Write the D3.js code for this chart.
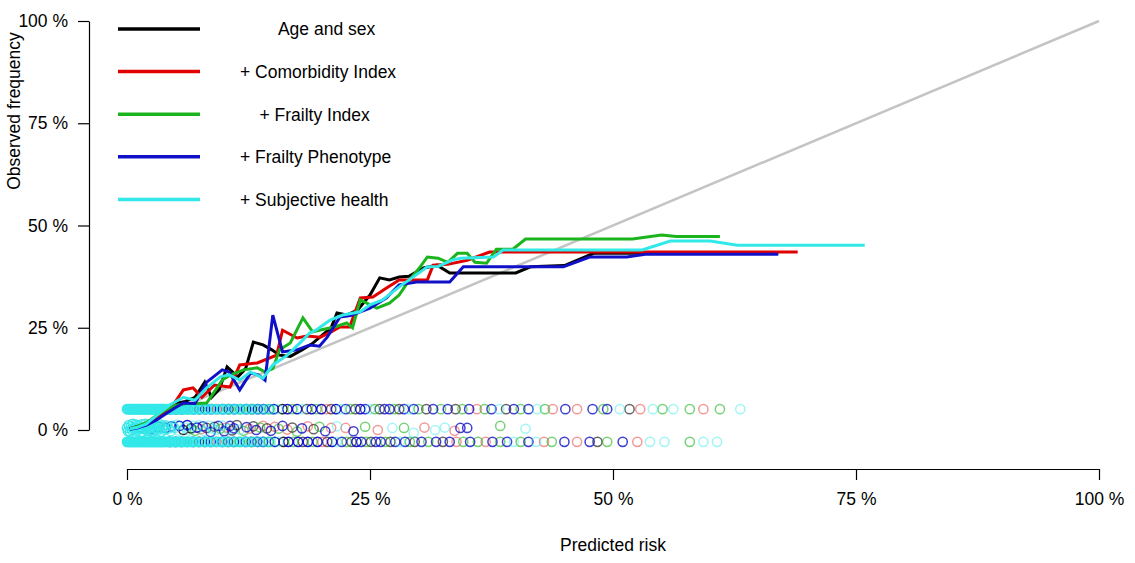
<!DOCTYPE html>
<html>
<head>
<meta charset="utf-8">
<script src="https://cdn.jsdelivr.net/npm/d3@7"></script>
<style>
  html, body { margin: 0; padding: 0; background: #fff; }
  svg { display: block; font-family: "Liberation Sans", Arial, sans-serif; }
</style>
</head>
<body>
<svg id="chart" width="1135" height="563"></svg>
<script>
// ─── Data (percent) ─────────────────────────────────────────────────────────
const models = ["Age and sex", "+ Comorbidity Index", "+ Frailty Index",
                "+ Frailty Phenotype", "+ Subjective health"];
// leading spaces as in the original legend
const legendPad = [8, 0, 4, 0, 0];
const modelColors = ["#000000", "#e00000", "#1cb41c", "#1010c8", "#33e8e8"];
const circleAlpha = [0.6, 0.4, 0.6, 0.8, 0.45];

const xTicks = [0, 25, 50, 75, 100];
const yTicks = [0, 25, 50, 75, 100];

// calibration curves: [predicted, observed]
const ageSex = [[0.3,0.3],[1,0.8],[2,1.5],[3,3],[4,5],[5,6.5],[6,7],[7,8],[8,11.7],[8.7,8],
  [9.5,10],[10.3,15.4],[11.4,13],[12.2,15],[13,21.5],[14,20.8],[14.9,19.6],[15.7,18.3],
  [16.8,18],[18,19.6],[19,21],[20,23],[21,25],[21.6,28.6],[22.6,28.1],[23.7,29.3],[25,33],
  [26,37.2],[27,36.7],[28,37.4],[29,37.6],[30.5,39.6],[31.9,40.3],[33.2,38.4],[36,38.4],
  [40,38.4],[41.5,39.9],[45,40.2],[48,43.2],[67,43.2]];
const comorbidity = [[0.3,0.3],[1,0.7],[2,1.5],[3,3],[4,4.5],[5,7],[5.8,9.8],[6.8,10.3],
  [7.7,8],[9,11],[10.6,10.5],[11.6,15.9],[13.4,16.4],[15.4,18.3],[16,24.4],[17.5,22.5],
  [18.5,23],[19.9,22.7],[21,24],[21.9,25.2],[22.9,25.2],[24,32.3],[25.3,32.5],[26.7,34.7],
  [28,36.7],[30.9,36.7],[31.5,40.3],[33,40.5],[35,41.5],[37.3,43.5],[69,43.5]];
const frailtyIndex = [[0.3,0.3],[1,0.8],[2,1.8],[3,3.5],[4,5],[5,6],[6,6.5],[7,6.5],
  [8.2,6.6],[9.8,12.2],[10.6,13.4],[12,14.7],[13.4,15.2],[14.2,14.2],[15,15],[15.7,19.6],
  [16.8,21.3],[18.1,27.4],[19.1,24],[20,24.5],[21.4,25.2],[22.6,26.2],[23.2,25],[24,31.8],
  [25.7,29.8],[27,31],[28,33],[29,36.5],[30.2,40],[30.9,42.3],[32,42],[33,41],[34,43.2],
  [35,43.2],[35.8,41],[37,40.8],[38,44.2],[39.7,44.2],[41,46.7],[52,46.7],[55,47.7],
  [56.5,47.3],[61,47.3]];
const frailtyPheno = [[0.3,0.2],[1,0.5],[2,1.2],[3,2.4],[4,4],[5,5.5],[5.8,6.6],[7,6.5],
  [8.2,11.7],[9.8,14.7],[10.5,14.2],[11.6,9.8],[12.7,13.9],[13.5,13.5],[14.2,12.2],
  [15,28.1],[16,19.1],[17.5,19.6],[18.8,20.8],[19.8,20.5],[20.6,22.7],[21.9,27.6],[23,28],
  [25,29.8],[26.7,32.3],[28,35.5],[29.8,36.2],[33.2,36.2],[34.6,39.9],[44.9,39.9],
  [47.6,42.3],[51.4,42.3],[53.5,43],[67,43]];
const subjHealth = [[0.3,0.3],[1,0.6],[2,1.5],[3,3.5],[4.4,6.1],[5.8,8],[7,7.3],[8.2,10.3],
  [9.6,13],[10.5,13.5],[11.6,12.2],[12.7,14.2],[14,12.7],[15,15.9],[16.5,18.3],[17.8,21.3],
  [18.8,23.7],[19.5,24.5],[20.9,26.9],[22.2,28.1],[24,28.9],[25,30.6],[26.3,31.8],[28,35],
  [29.5,37.5],[30.9,39.9],[32,40],[33.5,41.6],[34.3,42],[37.7,42.3],[38.7,44],[53,44],
  [55.9,46.2],[60,46.2],[62.8,45.2],[75.9,45.2]];
const curves = [ageSex, comorbidity, frailtyIndex, frailtyPheno, subjHealth];

// rug of predicted risks: [predicted, model, patients at that value (default 1)]
const eventRow = 5.1;     // observed position of the upper strip
const nonEventRow = -2.9; // observed position of the lower strip
const eventRisk = [
  [0,4,10],[0.1,4,10],[0.2,4,10],[0.3,4,10],[0.4,4,10],[0.5,4,10],[0.6,4,10],[0.7,4,10],
  [0.8,4,10],[0.9,4,10],[1,4,10],[1.1,4,10],[1.2,4,10],[1.3,4,10],[1.4,4,10],[1.5,4,10],
  [1.6,4,10],[1.7,4,10],[1.8,4,10],[1.9,4,10],[2,4,10],[2.1,4,10],[2.2,4,10],[2.3,4,10],
  [2.4,4,10],[2.5,4,10],[2.6,4,10],[2.7,4,10],[2.8,4,10],[2.9,4,10],[3,4,10],[3.1,4,8],
  [3.2,4,8],[3.3,4,8],[3.4,4,8],[3.5,4,8],[3.6,4,8],[3.7,4,8],[3.8,4,8],[3.9,4,6],[4,4,6],
  [4.15,4,5],[4.3,4,4],[4.45,4,4],[4.6,4,4],[4.75,4,4],[4.9,4,4],[5.05,4,4],[5.2,4,4],
  [5.35,4,4],[5.5,4,4],[5.65,4,4],[5.8,4,4],[5.95,4,3],[6.1,4,4],[6.25,4,3],[6.4,4,4],
  [6.55,4,3],[6.7,4,4],[6.85,4,3],[7,4,4],[7.3,4,3],[7.6,4,3],[7.9,4,3],[8.2,4,3],[8.5,4,3],
  [8.8,4,3],[9.1,4,3],[9.4,4,3],[9.7,4,3],[10,4,3],[10.3,4,2],[10.6,4,2],[10.9,4,2],
  [11.2,4,2],[11.5,4,2],[11.8,4,2],[12.1,4,2],[12.4,4,2],[12.7,4,2],[13,4,2],[13.3,4],
  [13.6,4],[13.9,4],[14.2,4],[14.5,4],[14.8,4],
  [4.45,3,3],[5.05,0,3],[5.65,3,3],[6.25,2,2],[6.85,3,3],[7.45,0,2],[8.05,3,3],[8.65,3,2],
  [9.25,1,2],[9.85,3,2],[10.45,0,2],[11.05,3,2],[11.65,2,2],[12.25,3,2],[12.85,0,2],
  [13.45,3,2],[14.05,3,2],[14.65,2,2],
  [15.1,3,2],[15.5,4],[16,0,2],[16.5,3,2],[17,2],[17.5,3,2],[18,4],[18.5,0],[19,3,2],
  [19.5,2],[20,3,2],[20.5,1],[21,0],[21.5,3,2],[22,4],[22.5,3],[23,2],[23.5,0],[24,3,2],
  [24.5,3],[25,4],[25.5,2],[26,0],[26.5,3],[27,3],[27.5,2],[28,0],[28.5,3],[29,4],[29.5,3],
  [30,2],
  [30.8,0],[31.5,3],[32.3,2],[33,3],[33.8,0],[34.5,2],[35.2,3],[36,1],[36.8,2],[37.5,3],
  [38.3,4],[39,0],[39.8,3],[40.5,2],[41.3,3],[42.2,4],[43,2],[43.8,1],
  [45.1,3],[46.3,1],[47.9,3],[49,2],[49.4,3],[50.7,4],[51.7,0],[52.8,1],[54.1,4],[55.1,2],
  [56.2,4],[57.9,2],[59.3,1],[61,2],[63.1,4]];
const nonEventRisk = [
  [0,4,10],[0.1,4,10],[0.2,4,10],[0.3,4,10],[0.4,4,10],[0.5,4,10],[0.6,4,10],[0.7,4,10],
  [0.8,4,10],[0.9,4,10],[1,4,10],[1.1,4,10],[1.2,4,10],[1.3,4,10],[1.4,4,10],[1.5,4,10],
  [1.6,4,10],[1.7,4,10],[1.8,4,10],[1.9,4,10],[2,4,10],[2.1,4,10],[2.2,4,10],[2.3,4,10],
  [2.4,4,10],[2.5,4,10],[2.6,4,10],[2.7,4,10],[2.8,4,10],[2.9,4,10],[3,4,10],[3.1,4,8],
  [3.2,4,8],[3.3,4,8],[3.4,4,8],[3.5,4,8],[3.6,4,8],[3.7,4,8],[3.8,4,8],[3.9,4,6],[4,4,6],
  [4.15,4,5],[4.3,4,4],[4.45,4,4],[4.6,4,4],[4.75,4,4],[4.9,4,4],[5.05,4,4],[5.2,4,4],
  [5.35,4,4],[5.5,4,4],[5.65,4,4],[5.8,4,4],[5.95,4,3],[6.1,4,4],[6.25,4,3],[6.4,4,4],
  [6.55,4,3],[6.7,4,4],[6.85,4,3],[7,4,4],[7.3,4,3],[7.6,4,3],[7.9,4,3],[8.2,4,3],[8.5,4,3],
  [8.8,4,3],[9.1,4,3],[9.4,4,3],[9.7,4,3],[10,4,3],[10.3,4,2],[10.6,4,2],[10.9,4,2],
  [11.2,4,2],[11.5,4,2],[11.8,4,2],[12.1,4,2],[12.4,4,2],[12.7,4,2],[13,4,2],[13.3,4],
  [13.6,4],[13.9,4],[14.2,4],[14.5,4],[14.8,4],
  [4.4,3,3],[5,0,3],[5.6,3,3],[6.2,2,2],[6.8,3,3],[7.4,0,2],[8,3,3],[8.6,3,2],[9.2,1,2],
  [9.8,3,2],[10.4,0,2],[11,3,2],[11.6,2,2],[12.2,3,2],[12.8,0,2],[13.4,3,2],[14,3,2],
  [14.6,2,2],
  [15.2,3,2],[15.6,4],[16.1,0,2],[16.6,3,2],[17.1,2],[17.6,3,2],[18.1,0],[18.6,3,2],
  [19.1,2],[19.6,3,2],[20.1,1],[20.6,0],[21.1,3,2],[21.6,4],[22.1,3],[22.6,2],[23.1,0],
  [23.6,3,2],[24.1,3],[24.6,2],[25.1,0],[25.6,3],[26.1,3],[26.6,2],[27.1,0],[27.6,3],
  [28.1,4],[28.6,3],[29.1,2],[29.6,0],
  [30.3,3],[31,2],[31.8,3],[32.5,0],[33.2,3],[33.9,1],[34.6,2],[35.3,3],[36.1,2],[36.9,1],
  [37.6,3],[38.4,2],[39.1,3],[39.8,4],[40.5,2],[41.3,3],[42.1,4],[42.9,1],[43.7,2],
  [45,3],[46.3,1],[47.6,3],[48.4,0],[49.4,2],[51,3],[52.5,1],[53.8,4],[55.3,4],[57.9,2],
  [59.3,4],[60.7,4]];
// jittered middle strip: [predicted, observed, model, patients (default 1)]
const middleRisk = [
  [0,0.5,4,6],[0.1,-0.3,4,6],[0.2,1.2,4,6],[0.3,-0.4,4,6],[0.4,0.9,4,6],[0.5,0,4,6],
  [0.6,1.5,4,6],[0.7,0.3,4,6],[0.8,0.6,4,6],[0.9,1.3,4,6],[1,-0.2,4,6],[1.1,1.1,4,6],
  [1.2,0.5,4,6],[1.3,0.3,4,6],[1.4,-0.6,4,5],[1.5,1.4,4,5],[1.6,-0.5,4,5],[1.7,0.2,4,5],
  [1.8,0.8,4,5],[1.9,1.5,4,5],[2,0.1,4,5],[2.1,0.7,4,5],[2.2,1.2,4,5],[2.3,-0.3,4,5],
  [2.4,0.4,4,4],[2.5,0.6,4,4],[2.6,-0.5,4,4],[2.7,1.3,4,4],[2.8,-0.1,4,4],[2.9,0.5,4,4],
  [3,0.9,4,4],[3.1,-0.2,4,3],[3.2,0.3,4,3],[3.3,1,4,3],[3.4,1.4,4,3],[3.5,-0.4,4,3],
  [3.6,0.4,4,3],[3.7,0.7,4,3],[3.8,1.2,4,2],[3.9,0,4,2],[4.1,1.1,4,2],[4.3,0.4,4,2],
  [4.5,-0.3,4,2],[4.7,1,4,2],[4.9,0.5,4,2],[5.1,1.3,4],[5.3,-0.2,4],
  [1.5,0.6,3,3],[2.5,0.2,3,3],[3.3,0.8,0,2],[4,0.5,3,2],[4.6,0.9,3,2],[5.4,1,3,2],
  [5.8,0,0,2],[6,0.6,4],[6.2,1.2,3,2],[6.4,-0.1,4],[6.6,0.4,0,2],[6.8,1,4],[7,-0.2,2],
  [7.2,0.6,3,2],[7.4,1.2,4],[7.6,0.2,1],[7.8,0.9,3],[8,-0.3,4],[8.2,0.5,0],[8.4,1.1,4],
  [8.6,-0.5,3],[8.8,0.4,4],[9,0.8,0],[9.2,0,4],[9.4,1,3],[9.6,0.3,2],[9.8,1.1,4],
  [10,-0.3,3],[10.2,0.6,1],[10.4,0.2,4],[10.6,1,3],[10.8,-0.1,0],[11,0.4,3],[11.3,1.2,0],
  [11.6,0.1,4],[12,-0.2,2],[12.3,0.7,3],[12.6,0.3,1],[13,0.9,0],[13.3,0,3],[13.7,0.6,2],
  [14,1,1],[14.4,0.4,0],[14.8,-0.2,3],[15.2,0.8,1],[15.6,0.3,2],[16,1,3],[16.5,0.1,1],
  [17,0.6,0],[17.5,-0.4,2],[18,0.4,3],[18.6,0.9,1],[19.2,0.2,0],[19.8,0.8,2],[20.4,-0.3,3],
  [21,0.5,1],[21.6,0.9,4],
  [22.5,0.5,1],[23.3,-0.3,3],[24.5,0.8,2],[25.8,0,1],[27.3,0.5,4],[28.5,0.5,2],
  [29.5,-0.7,4],[30.6,0.6,1],[31.7,0,4],[32.7,0.6,4],[33.7,-0.2,1],[34.3,0.5,3],
  [35,0.5,3],[38.4,1,2],[41,0.3,4]];

// ─── Setup ──────────────────────────────────────────────────────────────────
const svg = d3.select("#chart");
const x = d3.scaleLinear().domain([0, 100]).range([127, 1099]);
const y = d3.scaleLinear().domain([0, 100]).range([430, 21]);
const fontSize = "17.5px";

// ─── Axes ───────────────────────────────────────────────────────────────────
const yAxis = svg.append("g")
  .attr("transform", "translate(89,0)")
  .call(d3.axisLeft(y).tickValues(yTicks).tickSize(11).tickSizeOuter(0)
    .tickPadding(10).tickFormat(d => d + " %"));

const xAxis = svg.append("g")
  .attr("transform", "translate(0,469)")
  .call(d3.axisBottom(x).tickValues(xTicks).tickSize(11).tickSizeOuter(0)
    .tickPadding(13).tickFormat(d => d + " %"));

[xAxis, yAxis].forEach(g => {
  g.selectAll("path, line").attr("stroke", "#000").attr("stroke-width", 1.2);
  g.selectAll("text").attr("fill", "#000").style("font-size", fontSize)
    .style("font-family", "'Liberation Sans', Arial, sans-serif");
});

svg.append("text")
  .attr("transform", "translate(20,111) rotate(-90)")
  .attr("text-anchor", "middle")
  .style("font-size", fontSize)
  .text("Observed frequency");

svg.append("text")
  .attr("x", 613)
  .attr("y", 551)
  .attr("text-anchor", "middle")
  .style("font-size", fontSize)
  .text("Predicted risk");

// ─── Ideal diagonal ─────────────────────────────────────────────────────────
svg.append("line")
  .attr("x1", x(0)).attr("y1", y(0))
  .attr("x2", x(100)).attr("y2", y(100))
  .attr("stroke", "#c4c4c4")
  .attr("stroke-width", 2.5);

// ─── Risk strips (cyan drawn last, as in the source plot) ───────────────────
const rugG = svg.append("g").attr("fill", "none").attr("stroke-width", 1.5);
const strips = [
  ...eventRisk.map(d => ({ p: d[0], o: eventRow, m: d[1], n: d[2] || 1 })),
  ...nonEventRisk.map(d => ({ p: d[0], o: nonEventRow, m: d[1], n: d[2] || 1 })),
  ...middleRisk.map(d => ({ p: d[0], o: d[1], m: d[2], n: d[3] || 1 }))
].sort((a, b) => a.m - b.m);

// n identical overplotted circles -> combined opacity
rugG.selectAll("circle")
  .data(strips)
  .join("circle")
    .attr("cx", d => x(d.p))
    .attr("cy", d => y(d.o))
    .attr("r", 4.6)
    .attr("stroke", d => modelColors[d.m])
    .attr("stroke-opacity", d => 1 - Math.pow(1 - circleAlpha[d.m], d.n));

// ─── Calibration curves ─────────────────────────────────────────────────────
const line = d3.line().x(d => x(d[0])).y(d => y(d[1]));
curves.forEach((c, i) => {
  svg.append("path")
    .datum(c)
    .attr("fill", "none")
    .attr("stroke", modelColors[i])
    .attr("stroke-width", 3)
    .attr("stroke-linejoin", "miter")
    .attr("d", line);
});

// ─── Legend ─────────────────────────────────────────────────────────────────
const legend = svg.append("g");
models.forEach((m, i) => {
  const ly = 29 + i * 42.6;
  legend.append("line")
    .attr("x1", 118).attr("x2", 200)
    .attr("y1", ly).attr("y2", ly)
    .attr("stroke", modelColors[i])
    .attr("stroke-width", 3.5);
  legend.append("text")
    .attr("x", 240)
    .attr("y", ly)
    .attr("dy", "0.36em")
    .style("font-size", fontSize)
    .style("white-space", "pre")
    .attr("xml:space", "preserve")
    .text(" ".repeat(legendPad[i]) + m);
});
</script>
</body>
</html>
